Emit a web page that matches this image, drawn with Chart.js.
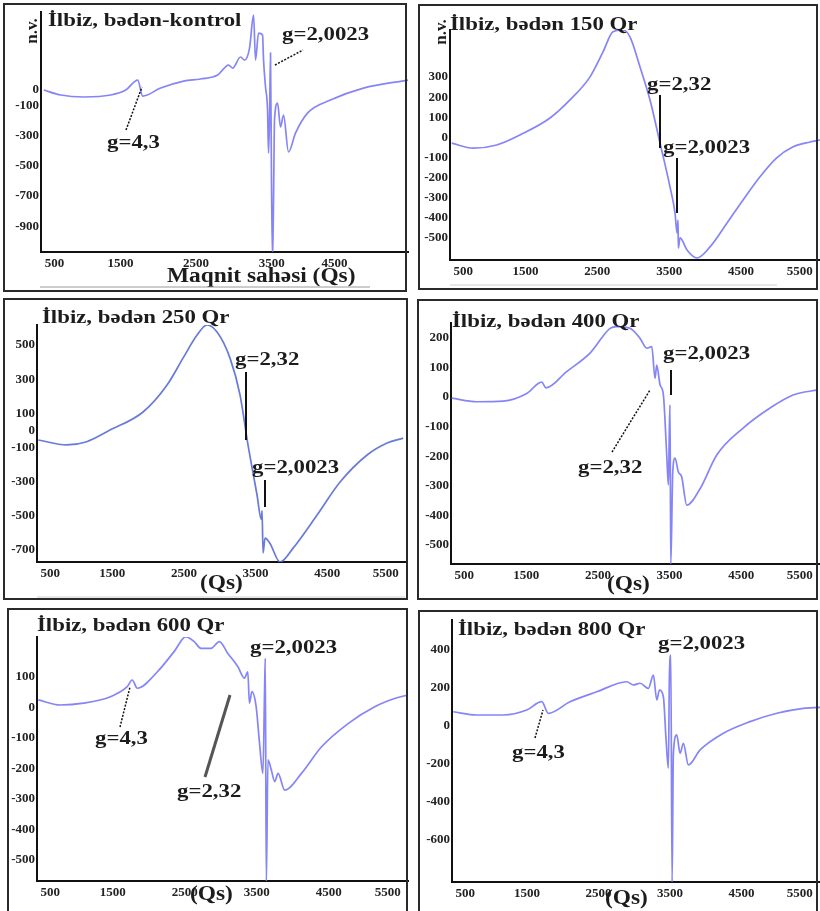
<!DOCTYPE html>
<html>
<head>
<meta charset="utf-8">
<script src="https://cdn.jsdelivr.net/npm/chart.js@4.4.1/dist/chart.umd.min.js"></script>
<style>
  body { margin: 0; background: #fff; width: 820px; height: 911px; position: relative; overflow: hidden; }
  canvas { position: absolute; }
  .box { position: absolute; border: 2px solid #2a2a2a; box-sizing: border-box; pointer-events: none; }
</style>
</head>
<body>
<canvas id="c1" width="410" height="295" style="left:0;top:0"></canvas>
<canvas id="c2" width="410" height="295" style="left:410px;top:0"></canvas>
<canvas id="c3" width="410" height="306" style="left:0;top:295px"></canvas>
<canvas id="c4" width="410" height="306" style="left:410px;top:295px"></canvas>
<canvas id="c5" width="410" height="311" style="left:0;top:600px"></canvas>
<canvas id="c6" width="410" height="311" style="left:410px;top:600px"></canvas>
<div class="box" style="left:3px;top:3px;width:404px;height:289px"></div>
<div class="box" style="left:418px;top:4px;width:400px;height:286px"></div>
<div class="box" style="left:3px;top:298px;width:405px;height:302px"></div>
<div class="box" style="left:417px;top:299px;width:401px;height:301px"></div>
<div class="box" style="left:7px;top:608px;width:401px;height:320px"></div>
<div class="box" style="left:418px;top:610px;width:400px;height:320px"></div>
<script>
// magnetic field (Qs) and signal values
const fieldKontrol = [487, 711, 1015, 1371, 1570, 1728, 1794, 2031, 2335, 2559, 2784, 2929, 2982, 3087, 3140, 3206, 3259, 3285, 3325, 3378, 3391, 3417, 3444, 3457, 3470, 3483, 3496, 3510, 3523, 3536, 3576, 3615, 3655, 3721, 3813, 3972, 4275, 4711, 5300];
const valKontrol = [0, -33, -46, -33, 0, 66, -40, 13, 59, 73, 99, 165, 145, 218, 198, 277, 495, 198, 376, 363, 198, 20, -132, -416, -198, 244, -594, -1122, -726, -198, -86, -244, -165, -409, -284, -152, -66, 13, 66];

const field150 = [474, 774, 1100, 1424, 1842, 2120, 2399, 2580, 2719, 2858, 2955, 3095, 3234, 3373, 3512, 3582, 3610, 3624, 3628, 3652, 3749, 3888, 4069, 4306, 4529, 4765, 4997, 5220, 5461, 5600];
const val150 = [-29, -54, -38, 12, 96, 186, 301, 425, 525, 534, 500, 350, 186, -28, -246, -376, -476, -411, -551, -500, -560, -600, -545, -426, -311, -196, -102, -48, -23, -13];

const field250 = [468, 865, 1144, 1469, 1930, 2265, 2488, 2684, 2823, 2963, 3144, 3284, 3395, 3521, 3580, 3591, 3605, 3633, 3700, 3842, 4024, 4359, 4680, 5057, 5336, 5559];
const val250 = [-56, -85, -66, 2, 108, 266, 423, 558, 617, 576, 423, 207, -85, -378, -520, -470, -717, -630, -660, -770, -689, -495, -302, -144, -74, -45];

const field400 = [460, 809, 1180, 1507, 1716, 1776, 2065, 2390, 2670, 2763, 2949, 3088, 3182, 3252, 3298, 3321, 3368, 3414, 3461, 3484, 3498, 3507, 3517, 3545, 3577, 3623, 3670, 3740, 3926, 4159, 4526, 4903, 5224, 5573];
const val400 = [-4, -16, -14, 12, 50, 31, 86, 148, 232, 238, 232, 198, 165, 170, 63, 108, 41, 7, -196, -297, -105, -27, -570, -253, -206, -253, -270, -365, -310, -196, -105, -37, 7, 24];

const field600 = [468, 771, 1096, 1469, 1702, 1772, 1842, 2121, 2353, 2516, 2632, 2725, 2865, 2981, 3097, 3237, 3330, 3376, 3399, 3433, 3492, 3539, 3586, 3609, 3619, 3633, 3656, 3703, 3749, 3796, 3889, 4121, 4400, 4773, 5145, 5424, 5600];
const val600 = [25, 8, 14, 35, 68, 90, 63, 117, 183, 232, 216, 194, 194, 216, 178, 134, 96, 117, 14, 52, 3, -117, -216, 57, 161, -580, -172, -205, -243, -216, -271, -216, -129, -52, 3, 30, 41];

const field800 = [468, 796, 1168, 1496, 1706, 1798, 2102, 2476, 2896, 2988, 3082, 3198, 3268, 3316, 3352, 3408, 3446, 3478, 3492, 3512, 3530, 3548, 3595, 3642, 3688, 3758, 3922, 4248, 4622, 4996, 5368, 5600];
const val800 = [75, 58, 58, 84, 128, 67, 128, 180, 233, 216, 225, 198, 268, 137, 189, 154, -74, -222, 251, 373, -830, -144, -47, -144, -91, -205, -126, -38, 23, 67, 93, 98];

// tick labels
const xTicksKontrol = [500, 1500, 2500, 3500, 4500];
const xTicks = [500, 1500, 2500, 3500, 4500, 5500];
const yTicksKontrol = [0, -100, -300, -500, -700, -900];
const yTicks150 = [300, 200, 100, 0, -100, -200, -300, -400, -500];
const yTicks250 = [500, 300, 100, 0, -100, -300, -500, -700];
const yTicks400 = [200, 100, 0, -100, -200, -300, -400, -500];
const yTicks600 = [100, 0, -100, -200, -300, -400, -500];
const yTicks800 = [400, 200, 0, -200, -400, -600];

const SERIF = '"Liberation Serif", "Times New Roman", serif';
const INK = '#1c1c1c';
const LINE = 'rgba(112,112,246,0.85)';

function notesPlugin(notes) {
  return {
    id: 'notes',
    afterDraw(chart) {
      const ctx = chart.ctx;
      notes.forEach(n => {
        ctx.save();
        if (n.line) {
          ctx.strokeStyle = n.color || '#111';
          ctx.lineWidth = n.w || 1.5;
          if (n.dash) ctx.setLineDash([2, 1.5]);
          ctx.beginPath();
          ctx.moveTo(n.line[0], n.line[1]);
          ctx.lineTo(n.line[2], n.line[3]);
          ctx.stroke();
        } else {
          ctx.font = n.font || ('bold 19px ' + SERIF);
          ctx.fillStyle = INK;
          ctx.textAlign = n.align || 'left';
          ctx.textBaseline = 'alphabetic';
          ctx.translate(n.x, n.y);
          if (n.rot) ctx.rotate(n.rot);
          ctx.scale(n.sx || 1.2, 1);
          ctx.fillText(n.text, 0, 0);
        }
        ctx.restore();
      });
    }
  };
}

function makeChart(id, xs, ys, cfg) {
  const canvas = document.getElementById(id);
  const H = canvas.height, W = canvas.width;
  const a = cfg.area;
  const tickFont = { family: SERIF, weight: 'bold', size: 13 };
  return new Chart(canvas.getContext('2d'), {
    type: 'line',
    data: {
      datasets: [{
        data: xs.map((x, i) => ({ x: x, y: ys[i] })),
        borderColor: cfg.color || LINE,
        borderWidth: 1.7,
        pointRadius: 0,
        cubicInterpolationMode: 'monotone',
        fill: false
      }]
    },
    options: {
      responsive: false,
      animation: false,
      layout: { padding: { left: 0, top: a.top, right: W - a.right, bottom: 0 } },
      plugins: { legend: { display: false }, tooltip: { enabled: false } },
      scales: {
        x: {
          type: 'linear',
          min: cfg.xMin,
          max: cfg.xMax,
          grid: { display: false, drawTicks: false },
          border: { color: '#111', width: 2 },
          ticks: { font: tickFont, color: '#222', padding: 4, maxRotation: 0, autoSkip: false, align: 'inner', callback: v => String(v) },
          afterBuildTicks: s => { s.ticks = cfg.xTicks.map(v => ({ value: v })); },
          afterFit: s => { s.height = H - a.bottom; s.paddingLeft = 0; s.paddingRight = 0; }
        },
        y: {
          min: cfg.yMin,
          max: cfg.yMax,
          grid: { display: false, drawTicks: false },
          border: { color: '#111', width: 2 },
          ticks: { font: tickFont, color: '#222', padding: 2, autoSkip: false, callback: v => String(v) },
          afterBuildTicks: s => { s.ticks = cfg.yTicks.map(v => ({ value: v })); },
          afterFit: s => { s.width = a.left; s.paddingTop = 0; s.paddingBottom = 0; }
        }
      }
    },
    plugins: [notesPlugin(cfg.notes)]
  });
}

const vert = -Math.PI / 2;
const QS_FONT = 'bold 20px ' + SERIF;

makeChart('c1', fieldKontrol, valKontrol, {
  area: { left: 41, right: 408, top: 12, bottom: 252 },
  xMin: 450, xMax: 5300, yMin: -1069, yMax: 515,
  xTicks: xTicksKontrol, yTicks: yTicksKontrol,
  notes: [
    { text: 'İlbiz, bədən-kontrol', x: 48, y: 26 },
    { text: 'n.v.', x: 37, y: 31, rot: vert, align: 'center', font: 'bold 17px ' + SERIF, sx: 1 },
    { text: 'g=2,0023', x: 282, y: 40 },
    { line: [275, 65, 303, 50], dash: true },
    { text: 'g=4,3', x: 107, y: 148 },
    { line: [126, 130, 142, 87], dash: true },
    { text: 'Maqnit sahəsi (Qs)', x: 167, y: 282, font: 'bold 20px ' + SERIF, sx: 1.17 },
    { line: [40, 287, 370, 287], color: '#9a9a9a', w: 1 }
  ]
});

makeChart('c2', field150, val150, {
  area: { left: 40, right: 410, top: 30, bottom: 260 },
  xMin: 450, xMax: 5600, yMin: -610, yMax: 534,
  xTicks: xTicks, yTicks: yTicks150,
  notes: [
    { text: 'İlbiz, bədən 150 Qr', x: 40, y: 30 },
    { text: 'n.v.', x: 36, y: 32, rot: vert, align: 'center', font: 'bold 17px ' + SERIF, sx: 1 },
    { text: 'g=2,32', x: 237, y: 90 },
    { line: [250, 95, 250, 148], w: 2 },
    { text: 'g=2,0023', x: 253, y: 153 },
    { line: [267, 158, 267, 213], w: 2 },
    { line: [40, 285, 367, 285], color: '#d0d0d0', w: 1 }
  ]
});

makeChart('c3', field250, val250, {
  area: { left: 37, right: 406, top: 30, bottom: 267 },
  xMin: 450, xMax: 5600, yMin: -770, yMax: 617,
  xTicks: xTicks, yTicks: yTicks250, color: 'rgba(88,108,214,0.9)',
  notes: [
    { text: 'İlbiz, bədən 250 Qr', x: 42, y: 28 },
    { text: 'g=2,32', x: 235, y: 70 },
    { line: [246, 77, 246, 145], w: 2 },
    { text: 'g=2,0023', x: 252, y: 178 },
    { line: [265, 185, 265, 212], w: 2 },
    { text: '(Qs)', x: 200, y: 294, font: QS_FONT, sx: 1.17 },
    { line: [37, 302, 405, 302], color: '#d0d0d0', w: 1 }
  ]
});

makeChart('c4', field400, val400, {
  area: { left: 41, right: 410, top: 28, bottom: 269 },
  xMin: 450, xMax: 5600, yMin: -564, yMax: 250,
  xTicks: xTicks, yTicks: yTicks400,
  notes: [
    { text: 'İlbiz, bədən 400 Qr', x: 42, y: 32 },
    { text: 'g=2,0023', x: 253, y: 64 },
    { line: [261, 75, 261, 100], w: 2 },
    { text: 'g=2,32', x: 168, y: 178 },
    { line: [202, 157, 240, 95], dash: true },
    { text: '(Qs)', x: 197, y: 295, font: QS_FONT, sx: 1.17 }
  ]
});

makeChart('c5', field600, val600, {
  area: { left: 37, right: 408, top: 37, bottom: 281 },
  xMin: 450, xMax: 5600, yMin: -569, yMax: 231,
  xTicks: xTicks, yTicks: yTicks600,
  notes: [
    { text: 'İlbiz, bədən 600 Qr', x: 37, y: 31 },
    { text: 'g=2,0023', x: 250, y: 53 },
    { text: 'g=4,3', x: 95, y: 144 },
    { line: [120, 127, 130, 87], dash: true },
    { text: 'g=2,32', x: 177, y: 197 },
    { line: [205, 177, 230, 95], color: '#555', w: 3 },
    { text: '(Qs)', x: 190, y: 300, font: QS_FONT, sx: 1.17 }
  ]
});

makeChart('c6', field800, val800, {
  area: { left: 42, right: 410, top: 20, bottom: 282 },
  xMin: 450, xMax: 5600, yMin: -821, yMax: 558,
  xTicks: xTicks, yTicks: yTicks800,
  notes: [
    { text: 'İlbiz, bədən 800 Qr', x: 48, y: 35 },
    { text: 'g=2,0023', x: 248, y: 49 },
    { text: 'g=4,3', x: 102, y: 158 },
    { line: [125, 138, 133, 110], dash: true },
    { text: '(Qs)', x: 195, y: 304, font: QS_FONT, sx: 1.17 }
  ]
});
</script>
</body>
</html>
